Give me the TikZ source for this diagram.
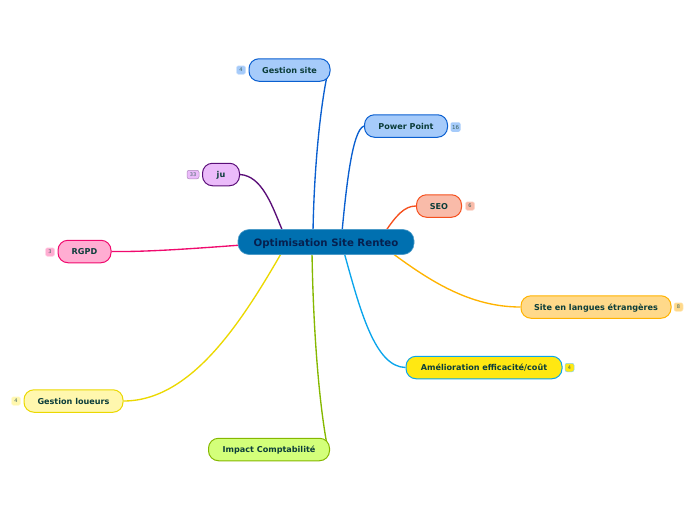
\documentclass[tikz,border=0pt]{standalone}
\usepackage{fontspec}
\usetikzlibrary{backgrounds}
\setmainfont{DejaVu Sans}
\definecolor{txt}{HTML}{0B3D3A}
\definecolor{cB}{HTML}{0070B0}
\definecolor{cT}{HTML}{06204F}
\definecolor{blueL}{HTML}{0A5FD0}\definecolor{blueF}{HTML}{A6CBFA}
\definecolor{purL}{HTML}{5A0E78}\definecolor{purF}{HTML}{EBBBFA}
\definecolor{redL}{HTML}{F5501E}\definecolor{redF}{HTML}{F9BBA9}
\definecolor{pinkL}{HTML}{F00A6E}\definecolor{pinkF}{HTML}{FFADD2}
\definecolor{orL}{HTML}{FFB300}\definecolor{orF}{HTML}{FFD98A}
\definecolor{cyL}{HTML}{0AA5EC}\definecolor{cyF}{HTML}{FFE812}
\definecolor{yeL}{HTML}{EBD800}\definecolor{yeF}{HTML}{FFF7AE}
\definecolor{grL}{HTML}{85B800}\definecolor{grF}{HTML}{D3FF7A}
\tikzset{
  x=1pt,y=-1pt,
  topic/.style={draw=#1,line width=1pt,rounded corners=10pt,minimum height=22.5pt,inner sep=0pt,text height=7.2pt,text depth=0.6pt,align=center,text=txt,font=\fontsize{8.1}{10}\selectfont\bfseries},
  badge/.style={draw=#1!55!white,fill=#1,line width=.5pt,rounded corners=2pt,minimum width=9pt,minimum height=8.5pt,inner sep=0pt,text=txt!80,font=\fontsize{5}{5}\selectfont},
  link/.style={line width=1.35pt,draw=#1},
  central/.style={fill=cB,draw=cB!70!white,line width=.6pt,rounded corners=11pt,minimum width=176pt,minimum height=25pt,inner sep=0pt,text height=8.8pt,text depth=.8pt,text=cT,font=\fontsize{10.2}{12}\selectfont\bfseries}
}
\begin{document}
\begin{tikzpicture}
\useasboundingbox (0,0) rectangle (696,520);
\node[central] (c) at (326,242) {Optimisation Site Renteo};
\node[topic=blueL,fill=blueF,minimum width=81pt] (gs) at (289.5,70) {Gestion site};
\node[topic=blueL,fill=blueF,minimum width=83pt] (pp) at (406,126) {Power Point};
\node[topic=purL,fill=purF,minimum width=37pt] (ju) at (221,174.5) {ju};
\node[topic=redL,fill=redF,minimum width=45pt] (seo) at (439,206) {SEO};
\node[topic=pinkL,fill=pinkF,minimum width=53pt] (rgpd) at (84.5,251.5) {RGPD};
\node[topic=orL,fill=orF,minimum width=150pt] (sl) at (596,307) {Site en langues étrangères};
\node[topic=cyL,fill=cyF,minimum width=156pt] (am) at (484,367.5) {Amélioration efficacité/coût};
\node[topic=yeL,fill=yeF,minimum width=99pt] (gl) at (73.5,401) {Gestion loueurs};
\node[topic=grL,fill=grF,minimum width=121pt] (ic) at (269,449.5) {Impact Comptabilité};
\node[badge=blueF] (bgs) at (241,70) {4};
\node[badge=blueF,draw=none,minimum width=10pt,minimum height=9.5pt,font=\fontsize{5.5}{5.5}\selectfont] (bpp) at (455.5,127) {16};
\node[badge=purF,draw=purL!50!white,minimum width=12pt] (bju) at (193,174.5) {33};
\node[badge=redF] (bseo) at (470,206) {6};
\node[badge=pinkF] (brg) at (50,252) {3};
\node[badge=orF] (bsl) at (678.5,307) {8};
\node[badge=cyF,draw=cyL!50!white] (bam) at (569.5,367.5) {4};
\node[badge=yeF] (bgl) at (16,401) {4};
\coordinate (gsa) at (327,76);
\coordinate (ica) at (326.5,442);
\begin{scope}[on background layer]
\draw[link=blueL] (gsa) .. controls (320,110) and (314,170) .. (313,232);
\draw[link=blueL] (pp.west) .. controls (352,130) and (346,190) .. (342,232);
\draw[link=purL] (ju.east) .. controls (262,176) and (272,205) .. (283,232);
\draw[link=redL] (seo.west) .. controls (404,206) and (396,216) .. (385,232);
\draw[link=pinkL] (rgpd.east) .. controls (150,252) and (200,248) .. (242,245);
\draw[link=orL] (sl.west) .. controls (470,307) and (430,281) .. (392,253);
\draw[link=cyL] (am.west) .. controls (375,367) and (360,310) .. (344,252);
\draw[link=yeL] (gl.east) .. controls (190,401) and (240,325) .. (282,252);
\draw[link=grL] (ica) .. controls (318,395) and (313,320) .. (312,252);
\end{scope}
\end{tikzpicture}
\end{document}
